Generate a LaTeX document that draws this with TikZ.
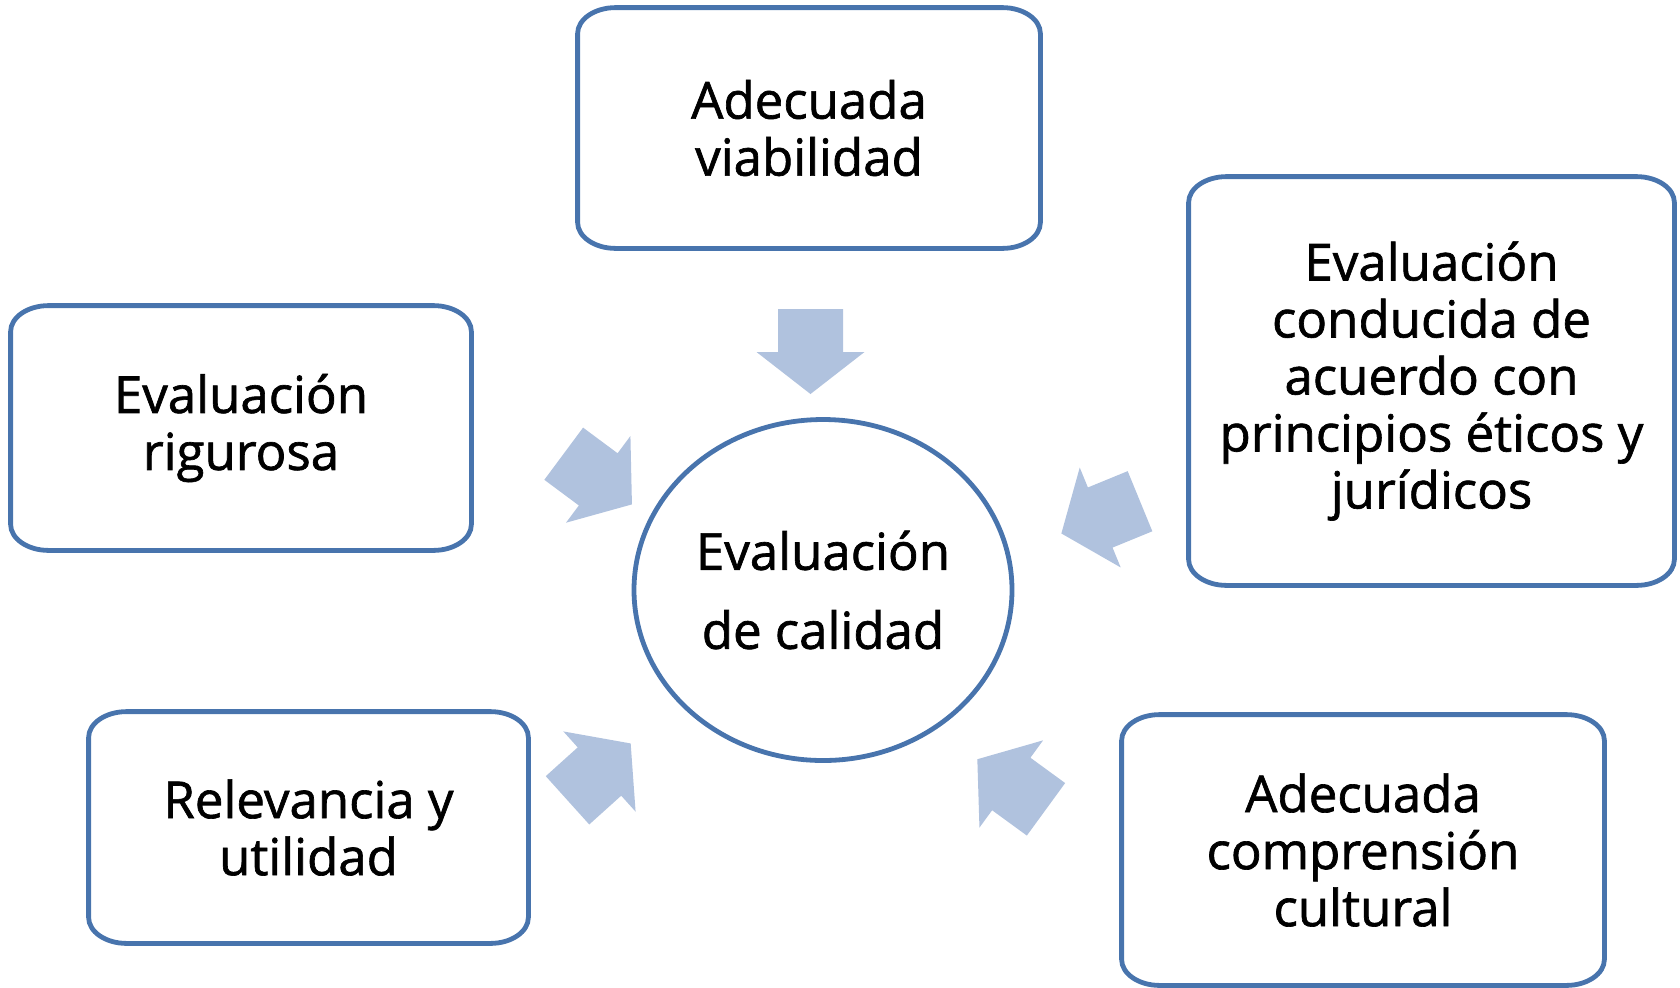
\documentclass[tikz,border=0pt]{standalone}
\usepackage{fontspec}
\setmainfont{Open Sans}
\newfontfamily\boxfont[FakeBold=1.3]{Open Sans}
\usetikzlibrary{shapes.geometric}
\definecolor{boxblue}{RGB}{72,116,173}
\definecolor{arrowblue}{RGB}{176,194,222}
\tikzset{
  box/.style={align=center, font=\boxfont\fontsize{25.5}{28.5}\selectfont, inner sep=0pt},
  boxline/.style={draw=boxblue, line width=2.4pt},
  hub/.style={draw=boxblue, line width=2.4pt, ellipse, minimum width=189pt,
    minimum height=170.5pt, align=center, font=\boxfont\fontsize{25.5}{39.5}\selectfont, inner sep=0pt},
  blockarrow/.pic={\fill[arrowblue] (0,-32.5) -- (43,-32.5) -- (43,-54) -- (85,0)
    -- (43,54) -- (43,32.5) -- (0,32.5) -- cycle;}
}
\newcommand\ellbox[1]{%
  \draw[boxline] ([xshift=19pt]#1.north west) -- ([xshift=-19pt]#1.north east)
    arc[start angle=90, end angle=0, x radius=19pt, y radius=13pt]
    -- ([yshift=13pt]#1.south east)
    arc[start angle=0, end angle=-90, x radius=19pt, y radius=13pt]
    -- ([xshift=19pt]#1.south west)
    arc[start angle=270, end angle=180, x radius=19pt, y radius=13pt]
    -- ([yshift=-13pt]#1.north west)
    arc[start angle=180, end angle=90, x radius=19pt, y radius=13pt] -- cycle;}
\begin{document}
\begin{tikzpicture}[x=0.5pt,y=-0.5pt]
\useasboundingbox (0,0) rectangle (1680,987);

\node[box, minimum width=231pt, minimum height=120pt] (top) at (809,128) {Adecuada\\viabilidad};
\node[box, minimum width=230pt, minimum height=122pt] (left) at (241,428) {Evaluación\\rigurosa};
\node[box, minimum width=242.5pt, minimum height=204pt] (right) at (1431.5,381) {Evaluación\\conducida de\\acuerdo con\\principios éticos y\\jurídicos};
\node[box, minimum width=219.5pt, minimum height=115.5pt] (bl) at (308.5,827.5) {Relevancia y\\utilidad};
\node[box, minimum width=241pt, minimum height=135pt] (br) at (1363,850) {Adecuada\\comprensión\\cultural};
\node[hub] (hub) at (823,590) {Evaluación\\de calidad};

\ellbox{top}
\ellbox{left}
\ellbox{right}
\ellbox{bl}
\ellbox{br}

\pic[rotate=-90] at (810.5,309) {blockarrow};
\pic[rotate=-36.6] at (563.7,453.7) {blockarrow};
\pic[rotate=202.3] at (1140,501.2) {blockarrow};
\pic[rotate=42.0] at (567.5,800.3) {blockarrow};
\pic[rotate=143.9] at (1046,809.3) {blockarrow};
\end{tikzpicture}
\end{document}
